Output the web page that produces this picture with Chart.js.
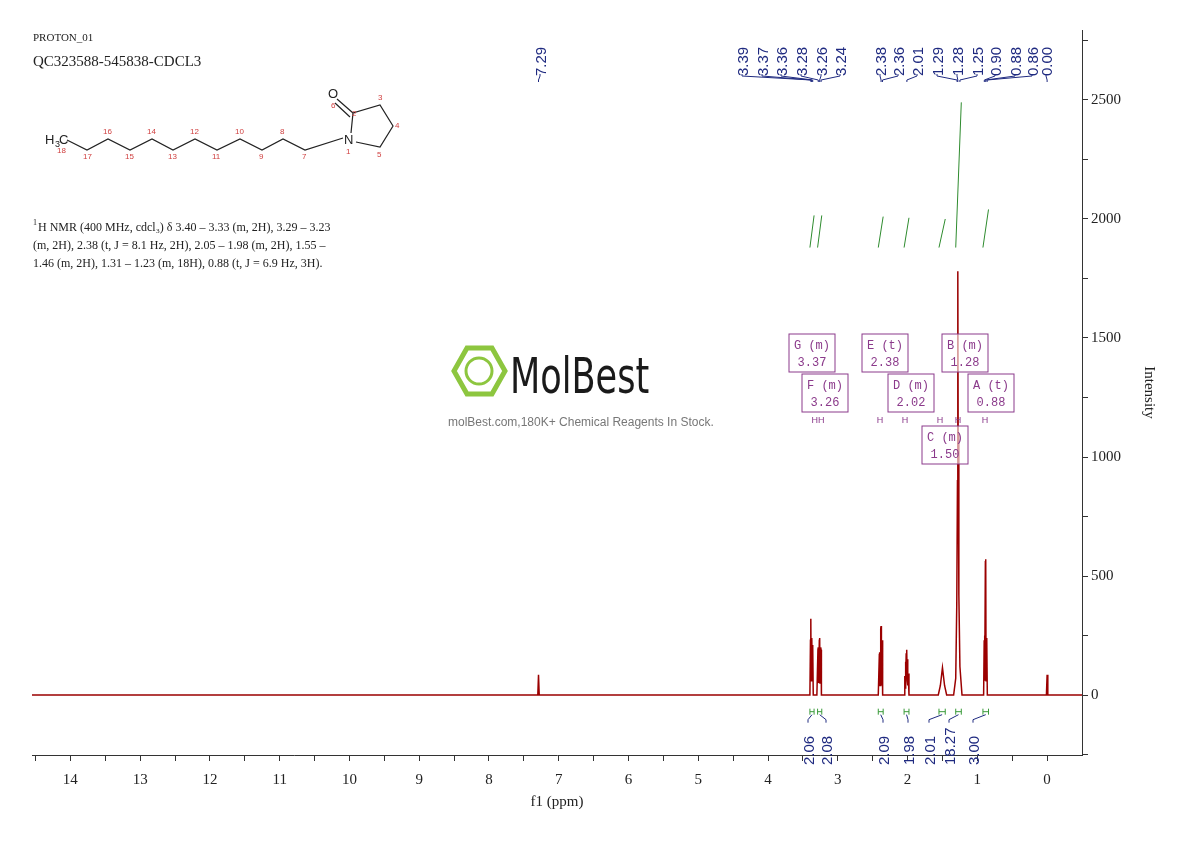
<!DOCTYPE html>
<html><head><meta charset="utf-8">
<script src="https://cdn.jsdelivr.net/npm/chart.js@4.4.0/dist/chart.umd.min.js"></script>
<style>body{margin:0;background:#fff}#w{width:1190px;height:841px}</style></head>
<body><div id="w"><canvas id="c"></canvas></div>
<script>
// spectrum points [ppm, intensity]
const spectrumPpm = [14.55,7.30,7.29,7.28,3.40,3.392,3.387,3.382,3.375,3.371,3.366,3.362,3.357,3.352,3.30,3.285,3.28,3.275,3.265,3.26,3.255,3.245,3.24,3.235,2.42,2.405,2.40,2.395,2.385,2.38,2.375,2.365,2.36,2.355,2.05,2.04,2.035,2.03,2.025,2.02,2.015,2.01,2.005,2.0,1.995,1.99,1.98,1.56,1.53,1.51,1.50,1.49,1.47,1.44,1.34,1.31,1.295,1.285,1.28,1.275,1.265,1.25,1.22,0.91,0.902,0.897,0.892,0.885,0.88,0.875,0.868,0.862,0.857,0.85,0.01,0.0,-0.01,-0.5];
const spectrumVal = [0,0,85,0,0,230,320,60,225,240,60,210,200,0,0,190,200,50,230,240,50,200,190,0,0,170,180,40,280,290,40,220,230,0,0,80,30,140,60,175,70,190,60,150,40,90,0,0,40,90,115,90,40,0,0,70,380,900,1780,1100,420,120,0,0,230,250,60,560,570,60,240,230,0,0,0,85,0,0];
// integration segments
const integFrom = [3.40,3.29,2.42,2.05,1.55,1.31,0.92];
const integTo   = [3.34,3.23,2.35,1.98,1.46,1.23,0.84];
const integLow  = [1880,1880,1880,1880,1880,1880,1880];
const integHigh = [2015,2015,2010,2005,2000,2490,2040];
const integValues = ['2.06','2.08','2.09','1.98','2.01','18.27','3.00'];
const peakLabels = ['7.29','3.39','3.37','3.36','3.28','3.26','3.24','2.38','2.36','2.01','1.29','1.28','1.25','0.90','0.88','0.86','0.00'];
const xTickLabels = [0,1,2,3,4,5,6,7,8,9,10,11,12,13,14];
const yTickLabels = [0,500,1000,1500,2000,2500];

const spec = spectrumPpm.map((p,i)=>({x:p,y:spectrumVal[i]}));
const integ = [];
integFrom.forEach((f,i)=>{integ.push({x:f,y:integLow[i]});integ.push({x:integTo[i],y:integHigh[i]});integ.push({x:integTo[i],y:null});});

const NAVY='#1f2a80', PURP='#8b3a8b', GREEN='#3a9a3a';
const deco = {
 id:'deco',
 afterDraw(ch){
  const c=ch.ctx, xs=ch.scales.x, ys=ch.scales.y;
  c.save();
  c.fillStyle='#222'; c.font='11px "Liberation Serif"'; c.textBaseline='alphabetic';
  c.fillText('PROTON_01',33,41);
  c.font='15px "Liberation Serif"'; c.fillText('QC323588-545838-CDCL3',33,66);
  c.font='8px "Liberation Serif"'; c.fillText('1',33,225);
  c.font='12px "Liberation Serif"';
  c.fillText('H NMR (400 MHz, cdcl\u2083) \u03b4 3.40 \u2013 3.33 (m, 2H), 3.29 \u2013 3.23',38,231);
  c.fillText('(m, 2H), 2.38 (t, J = 8.1 Hz, 2H), 2.05 \u2013 1.98 (m, 2H), 1.55 \u2013',33,249);
  c.fillText('1.46 (m, 2H), 1.31 \u2013 1.23 (m, 18H), 0.88 (t, J = 6.9 Hz, 3H).',33,267);
  const ch2=[[67,140],[87,150],[108,139],[130,150],[152,139],[173,150],[195,139],[217,150],[240,139],[262,150],[283,139],[305,150],[343,138]];
  c.strokeStyle='#222'; c.lineWidth=1.2; c.beginPath();
  ch2.forEach((p,i)=>i?c.lineTo(p[0],p[1]):c.moveTo(p[0],p[1])); c.stroke();
  c.beginPath(); c.moveTo(351,133); c.lineTo(353,113); c.lineTo(380,105); c.lineTo(393,126); c.lineTo(380,147); c.lineTo(356,142); c.stroke();
  c.beginPath(); c.moveTo(353,113); c.lineTo(337,99); c.moveTo(350,117); c.lineTo(335,103); c.stroke();
  c.fillStyle='#222'; c.font='13px Arial';
  c.fillText('H',45,144); c.font='9px Arial'; c.fillText('3',55,147); c.font='13px Arial'; c.fillText('C',59,144);
  c.fillText('N',344,144); c.fillText('O',328,98);
  c.fillStyle='#d04040'; c.font='8px Arial';
  const nums=[['18',57,153],['17',83,159],['16',103,134],['15',125,159],['14',147,134],['13',168,159],['12',190,134],['11',212,159],['10',235,134],['9',259,159],['8',280,134],['7',302,159],['1',346,154],['6',331,108],['2',352,116],['3',378,100],['4',395,128],['5',377,157]];
  nums.forEach(n=>c.fillText(n[0],n[1],n[2]));
  // watermark
  c.strokeStyle='#8dc63f'; c.lineWidth=5;
  c.beginPath(); c.moveTo(467,348);c.lineTo(492,348);c.lineTo(505,371);c.lineTo(492,394);c.lineTo(467,394);c.lineTo(454,371);c.closePath();c.stroke();
  c.lineWidth=3; c.beginPath(); c.arc(479,371,13,0,Math.PI*2); c.stroke();
  c.save(); c.translate(510,393); c.scale(0.78,1); c.fillStyle='#1a1a1a'; c.font='50px "DejaVu Sans Condensed"'; c.fillText('MolBest',0,0); c.restore();
  c.fillStyle='#777'; c.font='12px Arial'; c.fillText('molBest.com,180K+ Chemical Reagents In Stock.',448,426);
  // peak labels
  const lx=[540,742,762,781,801,821,840,880,898,917,937,957,977,995,1015,1032,1046];
  const pk=[7.29,3.385,3.375,3.36,3.28,3.26,3.24,2.38,2.36,2.01,1.29,1.28,1.25,0.90,0.88,0.86,0.0];
  c.fillStyle=NAVY; c.strokeStyle=NAVY; c.lineWidth=1; c.font='15px Arial';
  peakLabels.forEach((t,i)=>{
    c.save(); c.translate(lx[i]+6,76); c.rotate(-Math.PI/2); c.textAlign='left'; c.fillText(t,0,0); c.restore();
    const px=xs.getPixelForValue(pk[i]);
    c.beginPath(); c.moveTo(lx[i],74); c.lineTo(lx[i],76); c.lineTo(px,80); c.lineTo(px,82); c.stroke();
  });
  const boxes=[['G (m)','3.37',789,334],['F (m)','3.26',802,374],['E (t)','2.38',862,334],['D (m)','2.02',888,374],['B (m)','1.28',942,334],['A (t)','0.88',968,374],['C (m)','1.50',922,426]];
  c.font='12px "Liberation Mono"'; c.textAlign='center';
  boxes.forEach(b=>{c.fillStyle='rgba(255,255,255,0.6)';c.fillRect(b[2],b[3],46,38);c.strokeStyle=PURP;c.strokeRect(b[2],b[3],46,38);c.fillStyle=PURP;c.fillText(b[0],b[2]+23,b[3]+15);c.fillText(b[1],b[2]+23,b[3]+32);});
  c.font='9px Arial';
  [['HH',818],['H',880],['H',905],['H',940],['H',958],['H',985]].forEach(h=>c.fillText(h[0],h[1],423));
  const ix=[808,826,883,908,929,949,973];
  c.fillStyle=GREEN; c.strokeStyle=GREEN;
  integFrom.forEach((f,i)=>{
    const a=xs.getPixelForValue(f), b=xs.getPixelForValue(integTo[i]), y=ys.getPixelForValue(-70);
    c.beginPath(); c.moveTo(a,y-3);c.lineTo(a,y+3);c.moveTo(b,y-3);c.lineTo(b,y+3);c.moveTo(a,y);c.lineTo(b,y);c.stroke();
    c.strokeStyle=NAVY; c.beginPath(); c.moveTo((a+b)/2,y+3); c.lineTo(ix[i],y+8); c.lineTo(ix[i],y+11); c.stroke(); c.strokeStyle=GREEN;
  });
  c.fillStyle=NAVY; c.font='15px Arial'; c.textAlign='left';
  integValues.forEach((t,i)=>{c.save();c.translate(ix[i]+6,765);c.rotate(-Math.PI/2);c.fillText(t,0,0);c.restore();});
  c.restore();
 }
};

new Chart(document.getElementById('c'),{
 type:'line',
 data:{datasets:[
  {data:spec,borderColor:'#9b0000',borderWidth:1.5,pointRadius:0,tension:0},
  {data:integ,borderColor:'#2e8b2e',borderWidth:1,pointRadius:0,tension:0,spanGaps:false}
 ]},
 options:{responsive:true,maintainAspectRatio:false,animation:false,
  layout:{padding:{left:32,top:30,right:28,bottom:30}},
  plugins:{legend:{display:false},tooltip:{enabled:false}},
  scales:{
   x:{type:'linear',reverse:true,min:-0.5,max:14.55,
     afterBuildTicks(s){const t=[];for(let v=0;v<=14.5;v+=0.5)t.push({value:v});s.ticks=t;},
     afterFit(s){s.height=56;},
     grid:{drawOnChartArea:false,color:'#333',tickLength:6},border:{color:'#333'},
     ticks:{color:'#222',font:{family:'Liberation Serif',size:15},maxRotation:0,autoSkip:false,padding:10,
       callback:v=>Number.isInteger(v)&&xTickLabels.includes(v)?String(v):''},
     title:{display:true,text:'f1 (ppm)',color:'#222',font:{family:'Liberation Serif',size:15},padding:0}},
   y:{type:'linear',position:'right',min:-252,max:2794,
     afterBuildTicks(s){const t=[];for(let v=-250;v<=2750;v+=250)t.push({value:v});s.ticks=t;},
     afterFit(s){s.width=80;},
     grid:{drawOnChartArea:false,color:'#333',tickLength:6},border:{color:'#333'},
     ticks:{color:'#222',font:{family:'Liberation Serif',size:15},autoSkip:false,
       callback:v=>yTickLabels.includes(v)?String(v):''},
     title:{display:true,text:'Intensity',color:'#222',font:{family:'Liberation Serif',size:15}}}
  }},
 plugins:[deco]
});
</script></body></html>
